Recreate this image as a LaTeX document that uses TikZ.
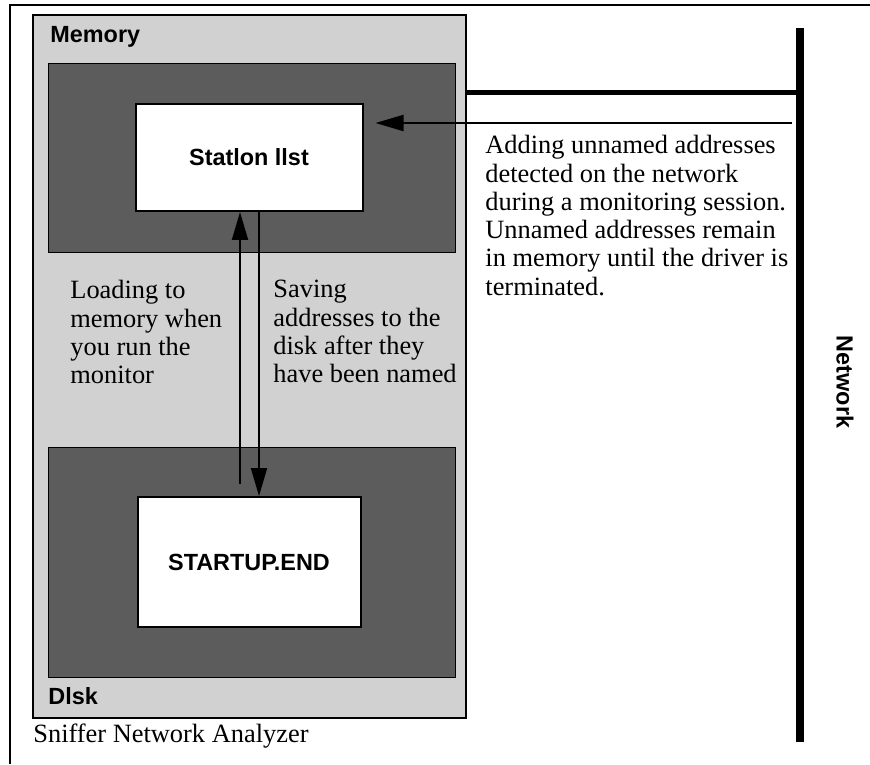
\documentclass[tikz,border=0pt]{standalone}
\usepackage{fontspec}
\setmainfont{Liberation Serif}
\setsansfont{Liberation Sans}
\usetikzlibrary{arrows.meta}
\definecolor{lightpat}{gray}{0.82}
\definecolor{darkpat}{gray}{0.36}
\begin{document}
\begin{tikzpicture}[x=0.5pt,y=-0.5pt,
        label/.style={font=\sffamily\bfseries\fontsize{11.7}{14}\selectfont,inner sep=0pt},
        note/.style={font=\fontsize{13.2}{14.15}\selectfont,align=left,inner sep=0pt,anchor=north west},
        darkbox/.style={draw=black,fill=darkpat,minimum width=203.5pt,inner sep=0pt},
        whitebox/.style={draw=black,line width=1pt,fill=white,inner sep=0pt},
        arr/.style={line width=1pt,-{Triangle[length=14pt,width=8pt]}}]
        \useasboundingbox (0,0) rectangle (870,764);
        \draw[line width=0.75pt] (10,764) -- (10,5) -- (870,5);
        \node[draw=black,line width=0.75pt,fill=lightpat,minimum width=216.5pt,minimum height=351.5pt] (analyzer) at (249.5,366.5) {};
        \node[darkbox,minimum height=94.5pt] (memory) at (251.5,157.5) {};
        \node[darkbox,minimum height=115pt] (disk) at (251.5,562) {};
        \node[whitebox,minimum width=113.5pt,minimum height=53.5pt] (station) at (249,157.5) {\sffamily\bfseries\fontsize{11.7}{14}\selectfont Statlon llst};
        \node[whitebox,minimum width=111.5pt,minimum height=65pt] (startup) at (249,562) {\sffamily\bfseries\fontsize{11.7}{14}\selectfont STARTUP.END};
        \node[label,anchor=west] (memlabel) at (50,37) {Memory};
        \node[label,anchor=west] (disklabel) at (48,696) {Dlsk};
        \coordinate (nettop) at (800,28);
        \coordinate (netbot) at (800,742);
        \coordinate (tap) at (792,123);
        \draw[line width=4pt] (nettop) -- (netbot);
        \draw[line width=2.5pt] (analyzer.east |- 0,93) -- (nettop |- 0,93);
        \node[label,rotate=-90] (network) at (845,382) {Network};
        \draw[arr,shorten >=6pt] (tap) -- (tap -| station.east);
        \draw[arr] ([xshift=-4.5pt,yshift=6pt]startup.north) -- ([xshift=-4.5pt]station.south);
        \draw[arr] ([xshift=5pt]station.south) -- ([xshift=5pt]startup.north);
        \node[note] (loading) at (70,280) {Loading to\\memory when\\you run the\\monitor};
        \node[note] (saving) at (273,280) {Saving\\addresses to the\\disk after they\\have been named};
        \node[note] (adding) at (485,135) {Adding unnamed addresses\\detected on the network\\during a monitoring session.\\Unnamed addresses remain\\in memory until the driver is\\terminated.};
        \node[note,anchor=west] (sniffer) at (33,736) {Sniffer Network Analyzer};
        \end{tikzpicture}
\end{document}
